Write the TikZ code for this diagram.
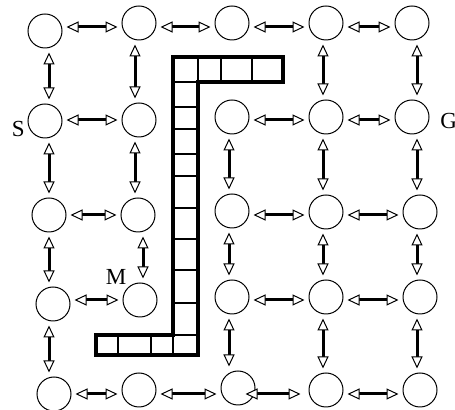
\documentclass[tikz,border=0pt]{standalone}
\usepackage{fontspec}
\setmainfont{Liberation Serif}
\usetikzlibrary{arrows.meta}

\tikzset{
	state/.style={draw, circle, minimum size=17pt, inner sep=0pt, line width=0.5pt},
	tip/.tip={Triangle[fill=white, length=6pt, width=5.5pt, line width=0.5pt]},
	link/.style={tip-tip, line width=1.5pt, shorten <=2pt, shorten >=2pt},
	label/.style={font=\fontsize{11.5}{14}\selectfont, inner sep=0pt},
}

\begin{document}
\begin{tikzpicture}[x=0.5pt, y=-0.5pt]
	\useasboundingbox (0,0) rectangle (455,410);
	% grid of states
	\node [state] (n00) at (45,31) {};
	\node [state] (n01) at (139,23) {};
	\node [state] (n02) at (232,23) {};
	\node [state] (n03) at (326,23) {};
	\node [state] (n04) at (412,23) {};
	\node [state] (n10) at (45,121) {};
	\node [state] (n11) at (139,120) {};
	\node [state] (n12) at (232,117) {};
	\node [state] (n13) at (326,117) {};
	\node [state] (n14) at (412,117) {};
	\node [state] (n20) at (49,215) {};
	\node [state] (n21) at (138,215) {};
	\node [state] (n22) at (232,211) {};
	\node [state] (n23) at (326,212) {};
	\node [state] (n24) at (420,212) {};
	\node [state] (n30) at (53,304) {};
	\node [state] (n31) at (140,300) {};
	\node [state] (n32) at (232,297) {};
	\node [state] (n33) at (326,297) {};
	\node [state] (n34) at (420,297) {};
	\node [state] (n40) at (54,394) {};
	\node [state] (n41) at (139,390) {};
	\node [state] (n42) at (238,388) {};
	\node [state] (n43) at (326,390) {};
	\node [state] (n44) at (420,390) {};
	% labels
	\node [label, anchor=east] (start) at (25,129) {S};
	\node [label, anchor=west] (goal) at (440,121) {G};
	\node [label] (mid) at (116,277) {M};
	% lines the moves run along
	\coordinate (r0) at (0,27);
	\coordinate (r1) at (0,120);
	\coordinate (r2) at (0,215);
	\coordinate (r3) at (0,300);
	\coordinate (r4) at (0,394);
	\coordinate (c0) at (49,0);
	\coordinate (c1) at (135,0);
	\coordinate (c1b) at (143,0);
	\coordinate (c2) at (229,0);
	\coordinate (c3) at (323,0);
	\coordinate (c4) at (417,0);
	% wall
	\draw [line width=1.2pt] (173,57) rectangle (198,82);
	\draw [line width=1.2pt] (198,57) rectangle (221,82);
	\draw [line width=1.2pt] (221,57) rectangle (252,82);
	\draw [line width=1.2pt] (252,57) rectangle (283,82);
	\draw [line width=1.2pt] (173,107) -- (198,107);
	\draw [line width=1.2pt] (173,129) -- (198,129);
	\draw [line width=1.2pt] (173,154) -- (198,154);
	\draw [line width=1.2pt] (173,176) -- (198,176);
	\draw [line width=1.2pt] (173,208) -- (198,208);
	\draw [line width=1.2pt] (173,239) -- (198,239);
	\draw [line width=1.2pt] (173,270) -- (198,270);
	\draw [line width=1.2pt] (173,303) -- (198,303);
	\draw [line width=1.2pt] (173,335) -- (198,335);
	\draw [line width=1.2pt] (118,335) -- (118,355);
	\draw [line width=1.2pt] (151,335) -- (151,355);
	\draw [line width=1.2pt] (173,335) -- (173,355);
	\draw [line width=1.8pt] (173,57) -- (283,57) -- (283,82) -- (198,82) -- (198,355) -- (96,355) -- (96,335) -- (173,335) -- cycle;
	% horizontal moves
	\draw [link] (n00.east |- r0) -- (n01.west |- r0);
	\draw [link] (n01.east |- r0) -- (n02.west |- r0);
	\draw [link] (n02.east |- r0) -- (n03.west |- r0);
	\draw [link] (n03.east |- r0) -- (n04.west |- r0);
	\draw [link] (n10.east |- r1) -- (n11.west |- r1);
	\draw [link] (n12.east |- r1) -- (n13.west |- r1);
	\draw [link] (n13.east |- r1) -- (n14.west |- r1);
	\draw [link] (n20.east |- r2) -- (n21.west |- r2);
	\draw [link] (n22.east |- r2) -- (n23.west |- r2);
	\draw [link] (n23.east |- r2) -- (n24.west |- r2);
	\draw [link] (n30.east |- r3) -- (n31.west |- r3);
	\draw [link] (n32.east |- r3) -- (n33.west |- r3);
	\draw [link] (n33.east |- r3) -- (n34.west |- r3);
	\draw [link] (n40.east |- r4) -- (n41.west |- r4);
	\draw [link] (n41.east |- r4) -- (n42.west |- r4);
	\draw [link, shorten <=-5pt, shorten >=4pt] (n42.east |- r4) -- (n43.west |- r4);
	\draw [link] (n43.east |- r4) -- (n44.west |- r4);
	% vertical moves
	\draw [link] (n00.south -| c0) -- (n10.north -| c0);
	\draw [link] (n10.south -| c0) -- (n20.north -| c0);
	\draw [link] (n20.south -| c0) -- (n30.north -| c0);
	\draw [link] (n30.south -| c0) -- (n40.north -| c0);
	\draw [link] (n01.south -| c1) -- (n11.north -| c1);
	\draw [link] (n11.south -| c1) -- (n21.north -| c1);
	\draw [link] (n21.south -| c1b) -- (n31.north -| c1b);
	\draw [link] (n12.south -| c2) -- (n22.north -| c2);
	\draw [link] (n22.south -| c2) -- (n32.north -| c2);
	\draw [link] (n32.south -| c2) -- (n42.north -| c2);
	\draw [link] (n03.south -| c3) -- (n13.north -| c3);
	\draw [link] (n13.south -| c3) -- (n23.north -| c3);
	\draw [link] (n23.south -| c3) -- (n33.north -| c3);
	\draw [link] (n33.south -| c3) -- (n43.north -| c3);
	\draw [link] (n04.south -| c4) -- (n14.north -| c4);
	\draw [link] (n14.south -| c4) -- (n24.north -| c4);
	\draw [link] (n24.south -| c4) -- (n34.north -| c4);
	\draw [link] (n34.south -| c4) -- (n44.north -| c4);
\end{tikzpicture}
\end{document}
